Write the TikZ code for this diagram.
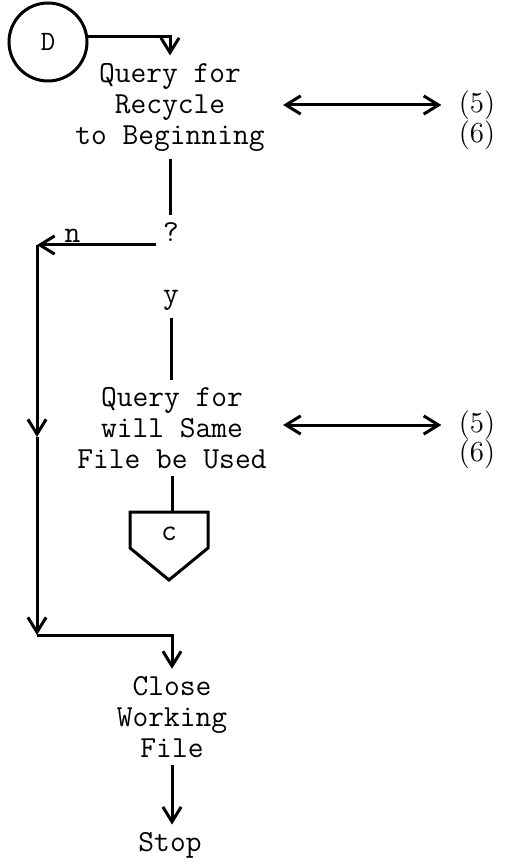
\documentclass[tikz,border=0pt]{standalone}
\usetikzlibrary{arrows.meta}

\begin{document}
\begin{tikzpicture}[
  x=0.5pt, y=-0.5pt,
  line width=1.5pt,
  txt/.style={align=center, font=\fontsize{15.3}{15.5}\selectfont\ttfamily, inner sep=3pt},
  ref/.style={font=\fontsize{14.5}{16}\selectfont, inner sep=2pt},
  arr/.style={-{Straight Barb[length=2.6mm, width=3.2mm]}},
  dbl/.style={{Straight Barb[length=2.6mm, width=3.2mm]}-{Straight Barb[length=2.6mm, width=3.2mm]}}
]
\useasboundingbox (0,0) rectangle (504,865);

\node[circle, draw, minimum size=39pt, inner sep=0pt, font=\fontsize{14}{16}\selectfont\ttfamily] (d) at (48,42) {D};
\node[txt] (q1) at (170,107) {Query for\\Recycle\\to Beginning};
\node[txt] (qm) at (171,232) {?};
\node[txt] (yy) at (171,300) {y};
\node[txt] (q2) at (172,428) {Query for\\will Same\\File be Used};
\node[txt] (c) at (169,534) {c};
\node[txt] (q3) at (172,717) {Close\\Working\\File};
\node[txt] (stop) at (170,845) {Stop};

\node[ref] (p5a) at (477,105) {(5)};
\node[ref] (p6a) at (477,135) {(6)};
\node[ref] (p5b) at (477,425) {(5)};
\node[ref] (p6b) at (477,454) {(6)};

\coordinate (nj) at (37,245);
\coordinate (nm) at (37,437);
\coordinate (nc) at (37,635);

\draw[arr] (d.8) -| (q1.north);
\draw (q1.south) -- (q1.south |- qm.north);
\draw[arr] (qm.west |- nj) -- node[pos=0.7, above, inner sep=0.5pt, font=\fontsize{15.3}{15.5}\selectfont\ttfamily] {n} (nj);
\draw[arr] (nj) -- (nm);
\draw[arr] (nm) -- (nc);
\draw[arr] (nc) -| (q3.north);
\draw (yy.south) -- (yy.south |- q2.north);
\draw[line join=miter] (c.center) ++(-39,-22) coordinate (ctl) -- ++(78,0) -- ++(0,36) -- ++(-39,32) -- ++(-39,-32) -- cycle;
\draw (q2.south) -- (q2.south |- ctl);
\draw[arr] (q3.south) -- (q3.south |- stop.north);

\draw[dbl, shorten <=5.5pt, shorten >=6pt] (q1.east |- p5a.west) -- (p5a.west);
\draw[dbl, shorten <=4.5pt, shorten >=6pt] (q2.east |- p5b.west) -- (p5b.west);
\end{tikzpicture}
\end{document}
